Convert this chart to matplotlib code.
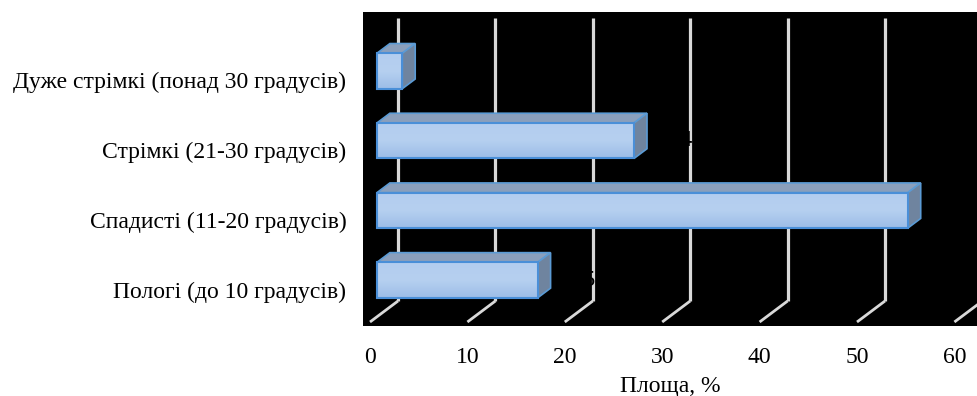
import numpy as np
import matplotlib
matplotlib.use("Agg")
import matplotlib.pyplot as plt
from matplotlib.patches import Polygon, Rectangle
from matplotlib.colors import LinearSegmentedColormap

# ---- data ----
categories = ["Дуже стрімкі (понад 30 градусів)",
              "Стрімкі (21-30 градусів)",
              "Спадисті (11-20 градусів)",
              "Пологі (до 10 градусів)"]
values = [2.6, 26.4, 54.5, 16.5]
value_labels = ["2,6", "26,4", "54,5", "16,5"]
xticks = [0, 10, 20, 30, 40, 50, 60]
xlabel = "Площа, %"

plt.rcParams['font.family'] = ['Liberation Serif', 'DejaVu Serif']
FS = 17

fig = plt.figure(figsize=(9.78, 3.96), dpi=100)
fig.patch.set_facecolor("white")
ax = fig.add_axes([363/978, 1-326/396, (978-363)/978, (326-12)/396])
ax.set_facecolor("black")

# coordinate mapping (front floor plane): x px = 370 + 9.74*v ; y px = 76.2 + 69.7*i
pxu = 9.74
pyu = 69.7
ax.set_xlim((363-370)/pxu, (978-370)/pxu)
ax.set_ylim((326-76.2)/pyu, (12-76.2)/pyu)

# depth of the 3-D box (floor) in data units
DX = 28/pxu
DY = -21/pyu
floor_front = (322-76.2)/pyu
floor_back = floor_front + DY
grid_top = (18-76.2)/pyu

grid_col = "#d9d9d9"
for t in xticks:
    ax.plot([t + DX, t + DX], [floor_back, grid_top], color=grid_col, lw=2.3,
            zorder=1, solid_capstyle="butt")
    ax.plot([t, t + DX], [floor_front, floor_back], color=grid_col, lw=2.0,
            zorder=1, solid_capstyle="butt")

# bars
d0 = 0.25   # front face depth fraction
dd = 0.46   # bar depth fraction
h = 35.5/pyu
cmap = LinearSegmentedColormap.from_list("g", ["#b3cdef", "#b6d0f0", "#9dbde7"])
grad = np.linspace(0, 1, 64).reshape(-1, 1)
bx, by = dd*DX, dd*DY
for i, v in enumerate(values):
    x0 = d0*DX
    y0 = i + d0*DY
    top = y0 - h/2
    bot = y0 + h/2
    # top face
    ax.add_patch(Polygon([[x0, top], [x0+v, top], [x0+v+bx, top+by], [x0+bx, top+by]],
                         closed=True, facecolor="#8a9fbc", edgecolor="#5b9bd5", lw=1.2, zorder=2))
    # side face
    ax.add_patch(Polygon([[x0+v, top], [x0+v+bx, top+by], [x0+v+bx, bot+by], [x0+v, bot]],
                         closed=True, facecolor="#6f849f", edgecolor="#5b9bd5", lw=1.2, zorder=2))
    # front face gradient
    im = ax.imshow(grad, cmap=cmap, aspect="auto", extent=[x0, x0+v, bot, top],
                   zorder=2.1, interpolation="bilinear")
    rect = Rectangle((x0, top), v, h, facecolor="none", edgecolor="#4a8fd8", lw=1.5, zorder=2.2)
    ax.add_patch(rect)
    im.set_clip_path(rect)
    # data label (black on black)
    ax.text(x0 + v + bx + 0.4, y0, value_labels[i], color="black", fontsize=FS,
            ha="left", va="center", zorder=3)

ax.set_xticks(xticks)
ax.set_xticklabels([str(t) for t in xticks], fontsize=FS)
ax.set_yticks([i + 0.06 for i in range(len(categories))])
ax.set_yticklabels(categories, fontsize=FS)
ax.tick_params(axis="x", length=0, pad=15)
ax.tick_params(axis="y", length=0, pad=12)
for s in ax.spines.values():
    s.set_visible(False)
ax.set_xlabel(xlabel, fontsize=FS, labelpad=6)

fig.savefig("out.png", dpi=100)
